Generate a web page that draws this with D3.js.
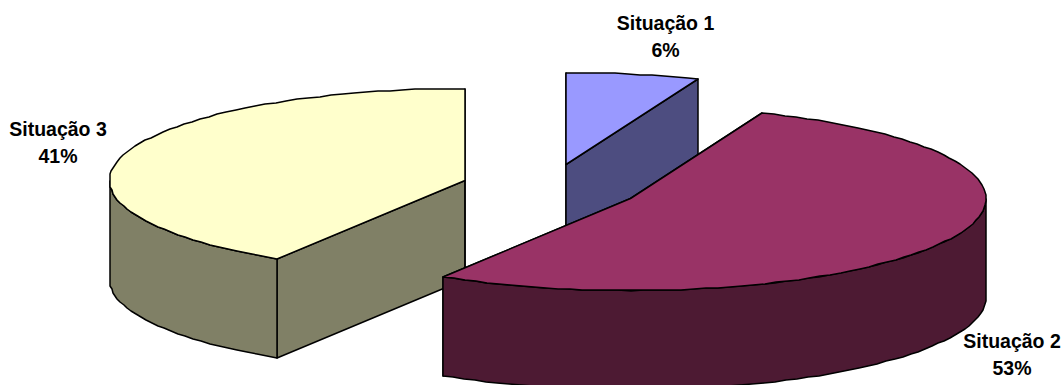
<!DOCTYPE html>
<html>
<head>
<meta charset="utf-8">
<style>
html,body{margin:0;padding:0;background:#fff;overflow:hidden}
svg{display:block}
text{font-family:"Liberation Sans",Arial,sans-serif;font-weight:bold;font-size:19.5px;fill:#000;text-anchor:middle}
</style>
<script src="https://cdn.jsdelivr.net/npm/d3@7"></script>
</head>
<body>
<svg id="c" width="1064" height="385"></svg>
<script>
const categories = ["Situação 1", "Situação 2", "Situação 3"];
const values = [6.05, 52.8, 41.15];
const topColors = ["#9999FF", "#993366", "#FFFFCC"];
const sideColors = ["#4D4D80", "#4D1A33", "#808066"];
const centers = [[566, 164.5], [630.5, 198.5], [465, 180.5]];
const labelPos = [[665.5, 30], [1012, 348], [58, 136]];
const paintOrder = [0, 2, 1];
const RX = 355.5, RY = 92, DEPTH = 99, STEP = Math.PI / 90;

const svg = d3.select("#c");
const slices = d3.pie().sort(null).value(d => d)(values);
const line = d3.line();
const pct = d3.format(".0f");
const unitX = d3.scaleLinear().domain([-1, 1]).range([-RX, RX]);
const unitY = d3.scaleLinear().domain([-1, 1]).range([-RY, RY]);

function rim(i, a) {
  return [Math.round(centers[i][0] + unitX(Math.sin(a))),
          Math.round(centers[i][1] + unitY(-Math.cos(a)))];
}
function rimPoints(i, a0, a1) {
  const pts = d3.range(a0, a1, STEP).map(a => rim(i, a));
  pts.push(rim(i, a1));
  return pts;
}
function drop(p) { return [p[0], p[1] + DEPTH]; }
function draw(pts, fill) {
  svg.append("path").attr("d", line(pts) + "Z")
    .attr("fill", fill).attr("stroke", "#000")
    .attr("stroke-width", 1.5).attr("stroke-linejoin", "round");
}

paintOrder.forEach(i => {
  const s = slices[i], apex = centers[i];
  [s.startAngle, s.endAngle].forEach(a => {
    const r = rim(i, a);
    draw([apex, r, drop(r), drop(apex)], sideColors[i]);
  });
  const w0 = Math.max(s.startAngle, Math.PI / 2), w1 = Math.min(s.endAngle, 3 * Math.PI / 2);
  if (w1 > w0) {
    const upper = rimPoints(i, w0, w1);
    draw(upper.concat(upper.map(drop).reverse()), sideColors[i]);
  }
  draw([apex].concat(rimPoints(i, s.startAngle, s.endAngle)), topColors[i]);
});

categories.forEach((c, i) => {
  svg.append("text").attr("x", labelPos[i][0]).attr("y", labelPos[i][1]).text(c);
  svg.append("text").attr("x", labelPos[i][0]).attr("y", labelPos[i][1] + 27).text(pct(values[i]) + "%");
});
</script>
</body>
</html>
